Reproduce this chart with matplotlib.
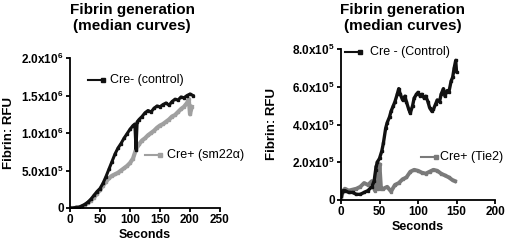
import matplotlib.pyplot as plt

# Left panel: Cre- (control) vs Cre+ (sm22a), RFU in units of 1e6
left_ctrl_t = [0, 5, 10, 15, 20, 25, 30, 35, 40, 45, 50, 55, 60, 65, 70, 75, 80, 85, 90, 95,
               100, 105, 108, 110, 112, 115, 120, 125, 130, 135, 140, 145, 150, 155, 160,
               165, 170, 175, 180, 185, 190, 195, 200, 205]
left_ctrl_y = [0, 0, 0.01, 0.01, 0.03, 0.05, 0.08, 0.12, 0.17, 0.22, 0.26, 0.33, 0.42, 0.52,
               0.62, 0.72, 0.80, 0.86, 0.93, 0.99, 1.05, 1.10, 1.12, 0.78, 1.15, 1.18, 1.22,
               1.27, 1.30, 1.28, 1.33, 1.36, 1.35, 1.38, 1.40, 1.37, 1.42, 1.45, 1.44, 1.48,
               1.47, 1.50, 1.52, 1.50]
left_cre_t = [0, 5, 10, 15, 20, 25, 30, 35, 40, 45, 50, 55, 60, 65, 70, 75, 80, 85, 90, 95,
              100, 105, 110, 115, 120, 125, 130, 135, 140, 145, 150, 155, 160, 165, 170, 175,
              180, 185, 190, 195, 198, 200, 203]
left_cre_y = [0, 0, 0, 0.01, 0.02, 0.04, 0.07, 0.10, 0.14, 0.19, 0.24, 0.30, 0.35, 0.40, 0.43,
              0.45, 0.47, 0.50, 0.53, 0.56, 0.60, 0.66, 0.78, 0.85, 0.90, 0.93, 0.97, 1.00,
              1.03, 1.07, 1.10, 1.12, 1.15, 1.18, 1.22, 1.24, 1.28, 1.32, 1.35, 1.40, 1.45,
              1.25, 1.35]

# Right panel: Cre - (Control) vs Cre+ (Tie2), RFU in units of 1e5
right_ctrl_t = [0, 3, 5, 10, 15, 20, 25, 30, 35, 40, 43, 45, 47, 50, 53, 55, 58, 60, 63, 65,
                68, 70, 73, 75, 77, 80, 83, 85, 88, 90, 93, 95, 98, 100, 103, 105, 108, 110,
                113, 115, 118, 120, 123, 125, 128, 130, 133, 135, 138, 140, 143, 145, 147,
                149, 150]
right_ctrl_y = [0.2, 0.5, 0.5, 0.4, 0.4, 0.3, 0.3, 0.4, 0.5, 0.7, 1.0, 1.6, 2.0, 2.2, 2.6,
                3.0, 3.8, 4.1, 4.4, 4.7, 5.0, 5.2, 5.6, 5.9, 5.6, 5.3, 5.5, 5.2, 4.8, 4.6,
                5.0, 5.4, 5.6, 5.7, 5.5, 5.6, 5.4, 5.5, 5.2, 4.9, 4.7, 4.8, 5.1, 5.3, 5.2,
                5.6, 5.9, 5.5, 5.8, 5.7, 6.3, 6.5, 7.0, 7.4, 6.8]
right_cre_t = [0, 3, 5, 10, 15, 20, 25, 30, 35, 40, 44, 46, 48, 50, 52, 55, 60, 65, 70, 75,
               80, 85, 90, 95, 100, 105, 110, 115, 120, 125, 130, 135, 140, 145, 148]
right_cre_y = [0.1, 0.5, 0.6, 0.5, 0.55, 0.6, 0.7, 0.9, 0.8, 1.0, 0.5, 1.8, 0.6, 1.9, 0.6,
               0.6, 0.7, 0.45, 0.8, 0.9, 1.1, 1.2, 1.5, 1.6, 1.55, 1.45, 1.4, 1.5, 1.6, 1.55,
               1.4, 1.3, 1.2, 1.05, 1.0]

left_yticks = [0, 0.5, 1.0, 1.5, 2.0]
left_ylabels = ["0", r"5.0x10$^5$", r"1.0x10$^6$", r"1.5x10$^6$", r"2.0x10$^6$"]
right_yticks = [0, 2, 4, 6, 8]
right_ylabels = ["0", r"2.0x10$^5$", r"4.0x10$^5$", r"6.0x10$^5$", r"8.0x10$^5$"]

plt.rcParams['font.family'] = ['Liberation Sans', 'DejaVu Sans']
plt.rcParams['mathtext.fontset'] = 'custom'
plt.rcParams['mathtext.rm'] = 'Liberation Sans:bold'
plt.rcParams['mathtext.it'] = 'Liberation Sans:bold'

fig = plt.figure(figsize=(5.2, 2.42), dpi=100)
W, H = 520, 242


def px_axes(x0, x1, y_top, y_bot):
    return fig.add_axes([x0 / W, 1 - y_bot / H, (x1 - x0) / W, (y_bot - y_top) / H])


def style(ax, xmax, xticks, yticks, ylabels, ymax, ylab_x):
    ax.set_xlim(0, xmax)
    ax.set_ylim(0, ymax)
    ax.set_xticks(xticks)
    ax.set_xticklabels([str(t) for t in xticks], fontweight='bold', fontsize=8.5)
    ax.set_yticks(yticks)
    ax.set_yticklabels(ylabels, fontweight='bold', fontsize=8.5)
    for s in ['top', 'right']:
        ax.spines[s].set_visible(False)
    for s in ['left', 'bottom']:
        ax.spines[s].set_linewidth(1.3)
    ax.tick_params(width=1.3, length=3, pad=1.5)
    ax.set_xlabel("Seconds", fontweight='bold', fontsize=9, labelpad=2)
    ax.set_ylabel("Fibrin: RFU", fontweight='bold', fontsize=9.5)
    ax.yaxis.set_label_coords(ylab_x, 0.5)
    ax.patch.set_visible(False)


# left panel
ax1 = px_axes(70, 220, 58, 208)
ax1.plot(left_cre_t, left_cre_y, color='#a0a0a0', lw=3, marker='s', ms=1.8)
ax1.plot(left_ctrl_t, left_ctrl_y, color='#111111', lw=2.2, marker='s', ms=1.5)
style(ax1, 250, [0, 50, 100, 150, 200, 250], left_yticks, left_ylabels, 2.0, -0.365)
ax1.plot([30, 55], [1.71, 1.71], color='#111111', lw=1.5, marker='s', ms=2.5, markevery=[1])
ax1.text(67, 1.71, "Cre- (control)", fontsize=9, va='center')
ax1.plot([125, 150], [0.71, 0.71], color='#a0a0a0', lw=1.5, marker='s', ms=2.5, markevery=[1])
ax1.text(162, 0.71, "Cre+ (sm22\u03b1)", fontsize=9, va='center', clip_on=False)

# right panel
ax2 = px_axes(341, 495, 49, 200)
ax2.plot(right_cre_t, right_cre_y, color='#7a7a7a', lw=2.8, marker='s', ms=1.8)
ax2.plot(right_ctrl_t, right_ctrl_y, color='#111111', lw=2.4, marker='s', ms=1.5)
style(ax2, 200, [0, 50, 100, 150, 200], right_yticks, right_ylabels, 8, -0.41)
ax2.plot([5, 25], [7.84, 7.84], color='#111111', lw=1.5, marker='s', ms=2.5, markevery=[1])
ax2.text(37.5, 7.84, "Cre - (Control)", fontsize=9, va='center')
ax2.plot([104, 123], [2.28, 2.28], color='#7a7a7a', lw=1.5, marker='s', ms=2.5, markevery=[1])
ax2.text(128, 2.28, "Cre+ (Tie2)", fontsize=9, va='center', clip_on=False)

# panel titles
for cx in (132, 403):
    fig.text(cx / W, 1 - 18 / H, "Fibrin generation\n(median curves)", ha='center',
             va='center', fontweight='bold', fontsize=11, linespacing=1.15)

fig.savefig("out.png", dpi=100)
